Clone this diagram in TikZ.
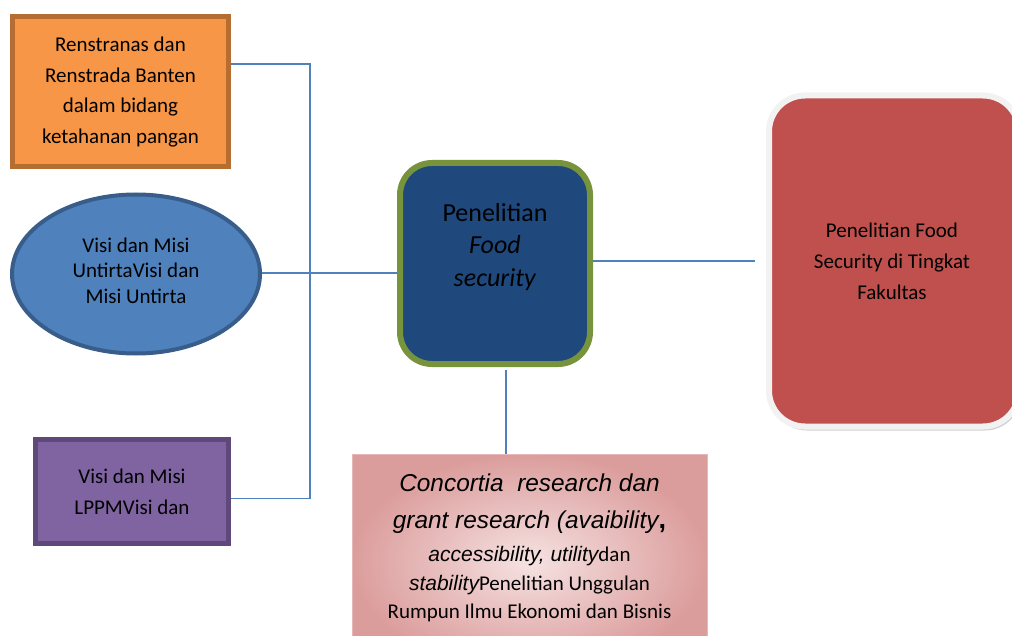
\documentclass[tikz,border=0pt]{standalone}
\usepackage{fontspec}
\setmainfont{Carlito}
\newfontfamily\arialf{Liberation Sans}
\usetikzlibrary{shapes.geometric,shadows,calc}
\definecolor{conn}{HTML}{4F81BD}
\definecolor{orfill}{HTML}{F79646}
\definecolor{ordraw}{HTML}{B66D31}
\definecolor{elfill}{HTML}{4F81BD}
\definecolor{eldraw}{HTML}{385D8A}
\definecolor{pufill}{HTML}{8064A2}
\definecolor{pudraw}{HTML}{5F497A}
\definecolor{cefill}{HTML}{1F497D}
\definecolor{cedraw}{HTML}{77933C}
\definecolor{refill}{HTML}{C0504D}
\definecolor{redraw}{HTML}{F2F2F2}
\definecolor{pkin}{HTML}{F6E2E2}
\definecolor{pkout}{HTML}{DB9D9C}
\definecolor{pkdraw}{HTML}{E6B9B8}
\newcommand\arit[1]{{\arialf\itshape #1}}
\tikzset{
  conline/.style={draw=conn, line width=1.6pt},
  boxtext/.style={align=center, text=black, font=\fontsize{21}{30.5}\selectfont},
}
\begin{document}
\begin{tikzpicture}[x=1pt,y=-1pt]
\useasboundingbox (0,0) rectangle (1012,636);
\clip (0,0) rectangle (1012,636);

% orange box
\node[boxtext, rectangle, fill=orfill, draw=ordraw, line width=5pt,
  minimum width=216pt, minimum height=150pt, inner sep=0pt,
  font=\fontsize{21}{30.8}\selectfont] (o) at (120.5,92)
  {Renstranas dan\\Renstrada Banten\\dalam bidang\\ketahanan pangan};

% ellipse
\node[boxtext, ellipse, fill=elfill, draw=eldraw, line width=4pt,
  minimum width=248pt, minimum height=159pt, inner sep=0pt,
  font=\fontsize{21}{25.5}\selectfont] (e) at (136,274)
  {Visi dan Misi\\UntirtaVisi dan\\Misi Untirta\\[-18.5pt]};

% purple box
\node[boxtext, rectangle, fill=pufill, draw=pudraw, line width=5pt,
  minimum width=193pt, minimum height=104pt, inner sep=0pt,
  font=\fontsize{21}{31}\selectfont] (p) at (132,491.5)
  {Visi dan Misi\\LPPMVisi dan};

% central box
\node[rectangle, rounded corners=32pt, fill=cefill, draw=cedraw, line width=6pt,
  minimum width=190pt, minimum height=201pt] (c) at (495,263.5) {};
\node[boxtext, font=\fontsize{26}{32.5}\selectfont] (ct) at (495,247)
  {Penelitian\\\textit{Food}\\\textit{security}};

% red box
\node[boxtext, rectangle, rounded corners=36pt, fill=refill, draw=redraw, line width=6pt,
  minimum width=250pt, minimum height=331pt,
  drop shadow={shadow xshift=2pt, shadow yshift=-4pt, opacity=0.3, fill=black!60},
  font=\fontsize{21}{31}\selectfont] (r) at (894,261)
  {\hspace*{-4pt}Penelitian Food\\\hspace*{-4pt}Security di Tingkat\\\hspace*{-4pt}Fakultas};

% pink box
\node[rectangle, shading=radial, inner color=pkin, outer color=pkout,
  draw=pkdraw, line width=1pt, minimum width=355pt, minimum height=216pt,
  align=center, text=black, font=\fontsize{21}{28}\selectfont] (k) at (529.5,562)
  {\arit{\fontsize{24.4}{28}\selectfont Concortia\ \ research dan}\\[9pt]
   \arit{\fontsize{24.4}{28}\selectfont grant research (avaibility}{\arialf\bfseries\fontsize{27}{28}\selectfont ,}\\[5pt]
   \arit{accessibility, utility}dan\\[1pt]
   \arit{stability}Penelitian Unggulan\\
   Rumpun Ilmu Ekonomi dan Bisnis\\[4pt]};

% connectors
\coordinate (j) at (310,273);
\draw[conline] ([yshift=28pt]o.east) -| (j) |- ([yshift=-7pt]p.east);
\draw[conline] (e.east |- j) -- (j -| c.west);
\draw[conline, shorten >=11pt] (c.east |- r.west) -- (r.west);
\draw[conline, shorten <=3pt] ([xshift=11pt]c.south) -- ([xshift=11pt]c.south |- k.north);
\end{tikzpicture}
\end{document}
